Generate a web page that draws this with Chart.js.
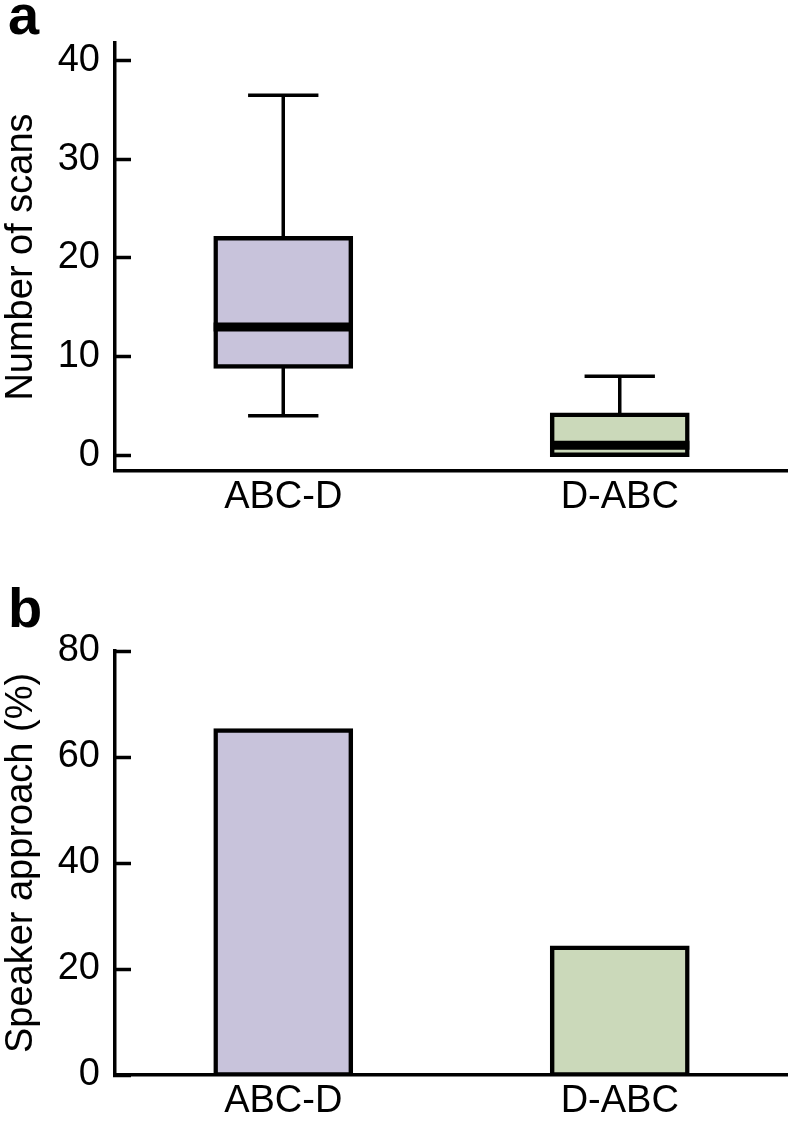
<!DOCTYPE html>
<html>
<head>
<meta charset="utf-8">
<script src="https://cdn.jsdelivr.net/npm/chart.js@4.4.1/dist/chart.umd.min.js"></script>
<style>
    html, body { margin: 0; padding: 0; background: #fff; }
    #wrap { position: relative; width: 788px; height: 1126px; }
    .panel { position: absolute; left: 0; width: 788px; }
    #panel-a { top: 0; height: 560px; }
    #panel-b { top: 560px; height: 566px; }
</style>
</head>
<body>
<div id="wrap">
    <div class="panel" id="panel-a"><canvas id="scans-chart"></canvas></div>
    <div class="panel" id="panel-b"><canvas id="approach-chart"></canvas></div>
</div>
<script>
const categories = ["ABC-D", "D-ABC"];

// panel a: box plot of number of scans
const scans_low = [4, 0];
const scans_q1 = [9, 0];
const scans_median = [13, 1];
const scans_q3 = [22, 4.1];
const scans_high = [36.5, 8];
const scans_ticks = [0, 10, 20, 30, 40];

// panel b: speaker approach (%)
const approach_pct = [65, 24];
const approach_ticks = [0, 20, 40, 60, 80];

const fill_colors = ["#c8c3db", "#cbd9ba"];

Chart.defaults.font.family = "'Liberation Sans', Arial, Helvetica, sans-serif";
Chart.defaults.color = "#000";

// whiskers, caps and median drawn from the y scale
const box_whiskers = {
    id: "boxWhiskers",
    afterDatasetsDraw(chart) {
        const ctx = chart.ctx;
        const y = chart.scales.y;
        const meta = chart.getDatasetMeta(0);
        const line = (x1, y1, x2, y2) => {
            ctx.beginPath();
            ctx.moveTo(x1, y1);
            ctx.lineTo(x2, y2);
            ctx.stroke();
        };
        ctx.save();
        ctx.strokeStyle = "#000";
        ctx.lineCap = "butt";
        meta.data.forEach((bar, i) => {
            const cx = bar.x;
            const half = bar.width / 2 + 2;
            const cap = bar.width * 0.26;
            const yHigh = y.getPixelForValue(scans_high[i]);
            const yLow = y.getPixelForValue(scans_low[i]);
            ctx.lineWidth = 3.5;
            line(cx, y.getPixelForValue(scans_q3[i]), cx, yHigh);
            line(cx, y.getPixelForValue(scans_q1[i]), cx, yLow);
            line(cx - cap, yHigh, cx + cap, yHigh);
            line(cx - cap, yLow, cx + cap, yLow);
            ctx.lineWidth = 9;
            const ym = y.getPixelForValue(scans_median[i]);
            line(cx - half, ym, cx + half, ym);
        });
        ctx.restore();
    }
};

function yScale(min, max, ticks, title) {
    return {
        min: min,
        max: max,
        afterBuildTicks: (s) => { s.ticks = ticks.map((v) => ({ value: v })); },
        grid: { drawOnChartArea: false, tickLength: -16, tickWidth: 3.5, tickColor: "#000" },
        border: { display: true, width: 3.5, color: "#000" },
        ticks: { padding: 31, font: { size: 38 }, color: "#000" },
        title: { display: true, text: title, font: { size: 38, lineHeight: 0.7 }, padding: 0, color: "#000" },
        afterFit: (s) => {
            s.width = 107;
            s.paddingTop = 20;
            s.paddingBottom = 20;
        }
    };
}

function xScale(height) {
    return {
        grid: { display: false, drawTicks: false },
        border: { display: true, width: 3.5, color: "#000" },
        ticks: { padding: 4, font: { size: 38 }, color: "#000" },
        afterFit: (s) => { s.height = height; }
    };
}

function panelTitle(letter, padTop, padBottom) {
    return {
        display: true,
        text: letter,
        align: "start",
        color: "#000",
        font: { size: 56, weight: "bold", lineHeight: 0.5 },
        padding: { top: padTop, bottom: padBottom }
    };
}

function barDataset(values) {
    return {
        data: values,
        backgroundColor: fill_colors,
        borderColor: "#000",
        borderWidth: 4.5,
        borderSkipped: false,
        inflateAmount: 2.25,
        barPercentage: 0.402,
        categoryPercentage: 1
    };
}

new Chart(document.getElementById("scans-chart"), {
    type: "bar",
    data: {
        labels: categories,
        datasets: [barDataset(categories.map((c, i) => [scans_q1[i], scans_q3[i]]))]
    },
    options: {
        responsive: true,
        maintainAspectRatio: false,
        animation: false,
        layout: { padding: { left: 8, right: 0, top: 0, bottom: 0 } },
        plugins: {
            legend: { display: false },
            tooltip: { enabled: false },
            title: panelTitle("a", 5, 10)
        },
        scales: {
            x: xScale(89),
            y: yScale(-1.6, 41.8, scans_ticks, "Number of scans")
        }
    },
    plugins: [box_whiskers]
});

new Chart(document.getElementById("approach-chart"), {
    type: "bar",
    data: {
        labels: categories,
        datasets: [barDataset(approach_pct)]
    },
    options: {
        responsive: true,
        maintainAspectRatio: false,
        animation: false,
        layout: { padding: { left: 8, right: 0, top: 0, bottom: 0 } },
        plugins: {
            legend: { display: false },
            tooltip: { enabled: false },
            title: panelTitle("b", 37.6, 25.4)
        },
        scales: {
            x: xScale(51),
            y: yScale(0, 80, approach_ticks, "Speaker approach (%)")
        }
    }
});
</script>
</body>
</html>
